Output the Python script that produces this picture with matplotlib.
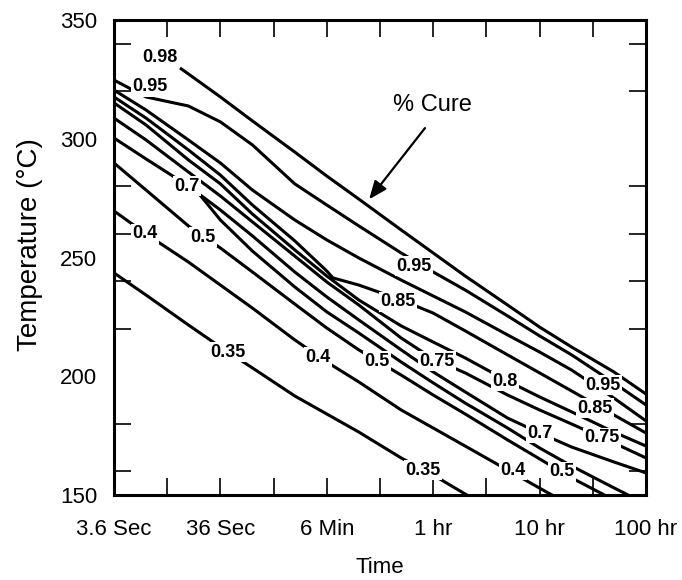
import numpy as np
import matplotlib
matplotlib.use("Agg")
import matplotlib.pyplot as plt

# Isoconversion lines: cure time in hours (log axis) vs temperature in deg C
t_grid = [0.001, 0.002, 0.005, 0.01, 0.02, 0.05, 0.1, 0.2, 0.5, 1, 2, 5, 10, 20, 50, 100]

t_098 = [0.00417, 0.005, 0.01, 0.02, 0.05, 0.1, 0.2, 0.5, 1, 2, 5, 10, 20, 50, 100]
T_098 = [329.8, 327.3, 317.6, 307.5, 294.4, 284.3, 274.6, 261.6, 251.9, 242.2, 230.0, 220.7, 212.3, 201.8, 192.5]

T_095 = [324.7, 317.6, 313.8, 307.1, 297.4, 281.0, 272.1, 263.3, 251.9, 243.9, 236.3, 225.4, 217.0, 209.0, 197.2, 187.9]
T_090 = [320.5, 312.1, 299.5, 289.8, 278.4, 265.8, 257.4, 249.8, 240.5, 233.8, 227.1, 217.4, 210.2, 202.6, 190.8, 181.2]

t_085 = [0.001, 0.002, 0.005, 0.01, 0.02, 0.05, 0.1, 0.1144, 0.2, 0.5, 1, 2, 5, 10, 20, 50, 100]
T_085 = [317.6, 308.7, 295.3, 284.7, 272.1, 257.0, 244.3, 241.4, 238.4, 232.1, 226.6, 219.1, 209.0, 201.4, 193.8, 183.7, 176.1]

T_080 = [315.1, 305.8, 291.1, 281.0, 268.3, 253.2, 242.2, 232.1, 221.2, 214.4, 207.7, 198.0, 191.3, 185.0, 176.5, 170.6]
T_075 = [308.7, 299.5, 286.0, 275.9, 265.0, 250.6, 239.7, 230.0, 216.1, 207.3, 201.4, 192.1, 185.8, 179.9, 171.9, 165.6]
T_070 = [300.3, 291.5, 280.1, 270.0, 259.1, 243.9, 233.4, 223.7, 211.1, 201.8, 193.4, 182.4, 176.1, 170.2, 163.9, 159.3]

t_060 = [0.00643, 0.01, 0.02, 0.05, 0.1, 0.2, 0.5, 1, 2, 5, 10, 20, 50, 100]
T_060 = [276.3, 265.8, 252.7, 237.6, 227.1, 218.2, 206.0, 197.2, 188.7, 178.2, 169.8, 162.2, 153.0, 146.2]

t_050 = t_grid[:15]
T_050 = [289.8, 278.4, 263.3, 254.0, 243.9, 230.4, 220.3, 211.1, 200.5, 192.1, 184.1, 173.2, 165.2, 157.2, 147.9]

t_040 = t_grid[:14]
T_040 = [269.6, 259.9, 248.1, 238.4, 228.7, 215.3, 206.0, 197.6, 185.8, 178.2, 170.6, 160.5, 152.9, 145.4]

t_035 = t_grid[:12]
T_035 = [243.5, 234.2, 221.6, 212.3, 203.5, 191.7, 184.1, 176.5, 165.6, 158.4, 150.4, 140.7]

lines = [(t_098, T_098), (t_grid, T_095), (t_grid, T_090), (t_085, T_085),
         (t_grid, T_080), (t_grid, T_075), (t_grid, T_070), (t_060, T_060),
         (t_050, T_050), (t_040, T_040), (t_035, T_035)]

# inline labels: text, time (hr), temperature (deg C)
label_text = ["0.98", "0.95", "0.7", "0.4", "0.5", "0.35", "0.4", "0.5", "0.75", "0.8",
              "0.85", "0.95", "0.95", "0.85", "0.75", "0.7", "0.5", "0.4", "0.35"]
label_t = [0.00271, 0.00218, 0.00485, 0.00196, 0.00686, 0.0118, 0.0827, 0.296, 1.086, 4.73,
           0.467, 0.660, 39.4, 33.2, 38.6, 10.1, 16.2, 5.62, 0.802]
label_T = [334.4, 321.8, 280.1, 259.9, 258.6, 210.2, 208.1, 206.4, 206.4, 198.0,
           231.3, 246.4, 196.3, 186.6, 174.0, 176.1, 159.7, 160.5, 160.5]

FONT = "Liberation Sans"

fig = plt.figure(figsize=(6.82, 5.80), dpi=100)
ax = fig.add_axes([114 / 682, 1 - 495 / 580, 532 / 682, 475 / 580])

for tt, TT in lines:
    ax.plot(tt, TT, color="black", lw=2.2, zorder=2,
            solid_joinstyle="round", solid_capstyle="butt")

for s, x, y in zip(label_text, label_t, label_T):
    ax.text(x, y, s, ha="center", va="center", fontsize=13, fontweight="bold",
            family=FONT, zorder=3,
            bbox=dict(boxstyle="square,pad=0.08", fc="white", ec="none"))

ax.set_xscale("log")
ax.set_xlim(0.001, 100)
ax.set_ylim(150, 350)

decades = [0.001, 0.01, 0.1, 1, 10, 100]
decade_labels = ["3.6 Sec", "36 Sec", "6 Min", "1 hr", "10 hr", "100 hr"]
ax.set_xticks(decades)
ax.set_xticklabels(decade_labels)
ax.set_xticks([10 ** (e + 0.5) for e in range(-3, 2)], minor=True)
ax.set_yticks([350, 300, 250, 200, 150])
ax.set_yticks(np.arange(160, 350, 20), minor=True)

ax.tick_params(axis="y", which="major", length=0, labelsize=16, pad=12)
ax.tick_params(axis="x", which="major", direction="in", length=12, width=1.2,
               top=True, labelsize=16, pad=17)
ax.tick_params(axis="both", which="minor", direction="in", length=12, width=1.2,
               top=True, right=True)
for lab in ax.get_xticklabels() + ax.get_yticklabels():
    lab.set_family(FONT)

for sp in ax.spines.values():
    sp.set_linewidth(2.2)

ax.set_xlabel("Time", fontsize=16, family=FONT, va="center")
ax.xaxis.set_label_coords(0.5, -0.153)
ax.set_ylabel("Temperature (°C)", fontsize=20, family=FONT, va="center")
ax.yaxis.set_label_coords(-0.158, 0.528)

ax.annotate("", xy=(0.25, 274.5), xytext=(0.837, 304.5),
            arrowprops=dict(arrowstyle="-|>,head_length=1.1,head_width=0.45",
                            color="black", lw=1.6, shrinkA=0, shrinkB=0))
ax.text(0.975, 314.2, "% Cure", fontsize=17, family=FONT, ha="center", va="center")

fig.savefig("out.png", dpi=100)
